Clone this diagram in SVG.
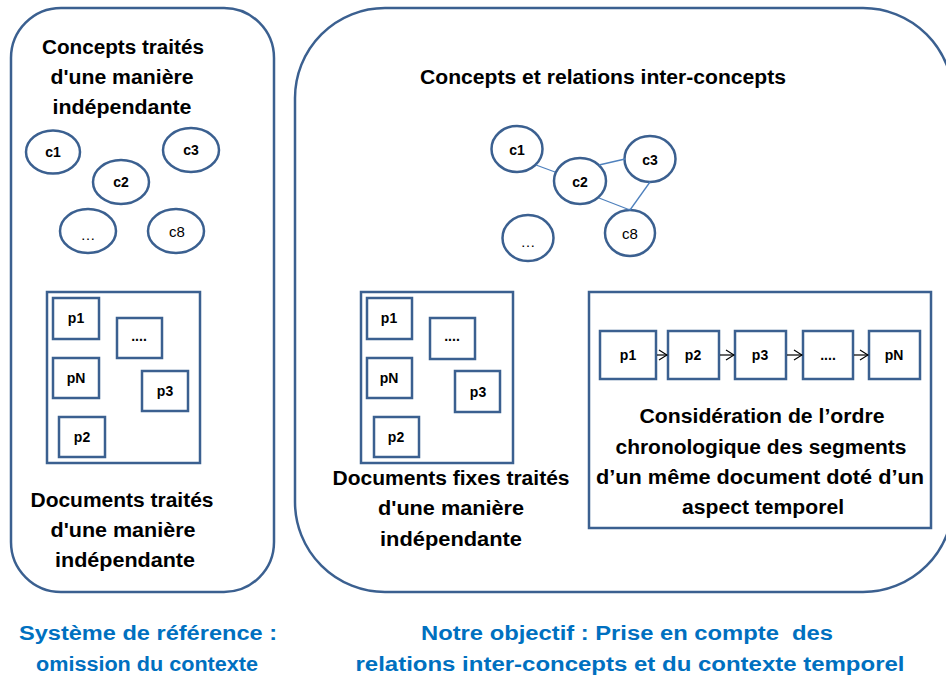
<svg xmlns="http://www.w3.org/2000/svg" width="946" height="677" viewBox="0 0 946 677">
<defs>
<style>
.frame{fill:#fff;stroke:#3B6090;stroke-width:2.5}
.box{fill:#fff;stroke:#3B6090;stroke-width:2.5}
.t{font-family:"Liberation Sans",Arial,sans-serif;font-weight:bold;font-size:20px;fill:#000;text-anchor:middle}
.b{font-family:"Liberation Sans",Arial,sans-serif;font-weight:bold;font-size:20px;fill:#0070C0;text-anchor:middle}
.l{font-family:"Liberation Sans",Arial,sans-serif;font-weight:bold;font-size:14px;fill:#000;text-anchor:middle}
.n{font-family:"Liberation Sans",Arial,sans-serif;font-size:15px;fill:#000;text-anchor:middle}
.rel{stroke:#4F81BD;stroke-width:1.3;fill:none}
.arr{stroke:#000;stroke-width:1.2;fill:none}
</style>
<marker id="ah" markerWidth="10" markerHeight="12" refX="9" refY="6" orient="auto" markerUnits="userSpaceOnUse">
<path d="M1,1 L9,6 L1,11" fill="none" stroke="#000" stroke-width="1.2"/>
</marker>
</defs>
<rect width="946" height="677" fill="#fff"/>

<g id="left-frame">
<rect class="frame" x="11" y="8" width="263" height="584" rx="50" ry="50"/>
<text class="t" x="123" y="54" textLength="162" lengthAdjust="spacingAndGlyphs">Concepts traités</text>
<text class="t" x="122" y="84" textLength="143" lengthAdjust="spacingAndGlyphs">d'une manière</text>
<text class="t" x="122" y="114" textLength="139" lengthAdjust="spacingAndGlyphs">indépendante</text>
</g>
<g id="L-c1"><ellipse class="box" cx="53" cy="152" rx="27" ry="21.5"/><text class="l" x="53" y="157">c1</text></g>
<g id="L-c3"><ellipse class="box" cx="191" cy="150" rx="28" ry="22"/><text class="l" x="191" y="155">c3</text></g>
<g id="L-c2"><ellipse class="box" cx="121" cy="182" rx="28" ry="22"/><text class="l" x="121" y="187">c2</text></g>
<g id="L-dots"><ellipse class="box" cx="88" cy="231" rx="28" ry="22"/><text class="n" x="88" y="240">…</text></g>
<g id="L-c8"><ellipse class="box" cx="176" cy="231" rx="28" ry="22"/><text class="n" x="177" y="237">c8</text></g>

<g id="L-docs">
<rect class="box" x="47" y="292" width="153" height="171"/>
<g id="L-p1"><rect class="box" x="53" y="298" width="46" height="41"/><text class="l" x="76" y="323">p1</text></g>
<g id="L-pdots"><rect class="box" x="117" y="318" width="45" height="40"/><text class="l" x="139" y="341">....</text></g>
<g id="L-pN"><rect class="box" x="53" y="358" width="46" height="40"/><text class="l" x="76" y="383">pN</text></g>
<g id="L-p3"><rect class="box" x="142" y="371" width="46" height="40"/><text class="l" x="165" y="396">p3</text></g>
<g id="L-p2"><rect class="box" x="59" y="417" width="46" height="40"/><text class="l" x="82" y="442">p2</text></g>
</g>
<g id="L-docs-label">
<text class="t" x="122" y="507" textLength="183" lengthAdjust="spacingAndGlyphs">Documents traités</text>
<text class="t" x="123" y="537" textLength="145" lengthAdjust="spacingAndGlyphs">d'une manière</text>
<text class="t" x="125" y="567" textLength="140" lengthAdjust="spacingAndGlyphs">indépendante</text>
</g>

<g id="right-frame">
<rect class="frame" x="295" y="8" width="658" height="584" rx="90" ry="90"/>
<text class="t" x="603" y="84" textLength="366" lengthAdjust="spacingAndGlyphs">Concepts et relations inter-concepts</text>
</g>

<g id="R-c1"><ellipse class="box" cx="517" cy="149" rx="25.5" ry="23"/><text class="l" x="517" y="155">c1</text></g>
<g id="R-c2"><ellipse class="box" cx="580" cy="181" rx="26" ry="23"/><text class="l" x="580" y="187">c2</text></g>
<g id="R-c3"><ellipse class="box" cx="650" cy="159" rx="25.5" ry="23"/><text class="l" x="650" y="165">c3</text></g>
<g id="R-c8"><ellipse class="box" cx="630" cy="233" rx="25" ry="23"/><text class="n" x="630" y="239">c8</text></g>
<g id="R-dots"><ellipse class="box" cx="528" cy="238" rx="25.5" ry="23"/><text class="n" x="528" y="247">…</text></g>

<g id="R-docs">
<rect class="box" x="361" y="292" width="152" height="171"/>
<g id="R-p1"><rect class="box" x="367" y="298" width="45" height="41"/><text class="l" x="389" y="323">p1</text></g>
<g id="R-pdots"><rect class="box" x="430" y="318" width="45" height="41"/><text class="l" x="452" y="341">....</text></g>
<g id="R-pN"><rect class="box" x="367" y="358" width="45" height="40"/><text class="l" x="389" y="383">pN</text></g>
<g id="R-p3"><rect class="box" x="455" y="371" width="45" height="41"/><text class="l" x="478" y="397">p3</text></g>
<g id="R-p2"><rect class="box" x="374" y="417" width="45" height="40"/><text class="l" x="396" y="442">p2</text></g>
</g>
<g id="R-docs-label">
<text class="t" x="451" y="485" textLength="237" lengthAdjust="spacingAndGlyphs">Documents fixes traités</text>
<text class="t" x="451" y="515" textLength="146" lengthAdjust="spacingAndGlyphs">d'une manière</text>
<text class="t" x="451" y="546" textLength="142" lengthAdjust="spacingAndGlyphs">indépendante</text>
</g>

<g id="R-seq">
<rect class="box" x="589" y="292" width="342" height="236"/>
<g id="S-p1"><rect class="box" x="600" y="331" width="56" height="48"/><text class="l" x="628" y="360">p1</text></g>
<g id="S-p2"><rect class="box" x="668" y="331" width="51" height="48"/><text class="l" x="693" y="360">p2</text></g>
<g id="S-p3"><rect class="box" x="735" y="331" width="51" height="48"/><text class="l" x="760" y="360">p3</text></g>
<g id="S-pdots"><rect class="box" x="803" y="331" width="50" height="48"/><text class="l" x="828" y="360">....</text></g>
<g id="S-pN"><rect class="box" x="869" y="331" width="51" height="48"/><text class="l" x="894" y="360">pN</text></g>
<text class="t" x="762" y="423" textLength="245" lengthAdjust="spacingAndGlyphs">Considération de l’ordre</text>
<text class="t" x="761" y="454" textLength="291" lengthAdjust="spacingAndGlyphs">chronologique des segments</text>
<text class="t" x="760" y="484" textLength="328" lengthAdjust="spacingAndGlyphs">d’un même document doté d’un</text>
<text class="t" x="763" y="514" textLength="162" lengthAdjust="spacingAndGlyphs">aspect temporel</text>
</g>

<g id="captions">
<text class="b" x="148" y="640" textLength="258" lengthAdjust="spacingAndGlyphs">Système de référence :</text>
<text class="b" x="147" y="671" textLength="222" lengthAdjust="spacingAndGlyphs">omission du contexte</text>
<text class="b" x="627" y="640" textLength="412" lengthAdjust="spacingAndGlyphs" xml:space="preserve" style="white-space:pre">Notre objectif : Prise en compte  des</text>
<text class="b" x="630" y="671" textLength="549" lengthAdjust="spacingAndGlyphs">relations inter-concepts et du contexte temporel</text>
</g>

<g id="connectors">
<line class="rel" x1="536" y1="165" x2="555" y2="172"/>
<line class="rel" x1="599" y1="165" x2="625" y2="159"/>
<line class="rel" x1="650" y1="182" x2="630" y2="210"/>
<line class="rel" x1="599" y1="198" x2="630" y2="210"/>
<line class="arr" x1="657" y1="355" x2="667" y2="355" marker-end="url(#ah)"/>
<line class="arr" x1="720" y1="355" x2="734" y2="355" marker-end="url(#ah)"/>
<line class="arr" x1="787" y1="355" x2="802" y2="355" marker-end="url(#ah)"/>
<line class="arr" x1="854" y1="355" x2="868" y2="355" marker-end="url(#ah)"/>
</g>
</svg>
